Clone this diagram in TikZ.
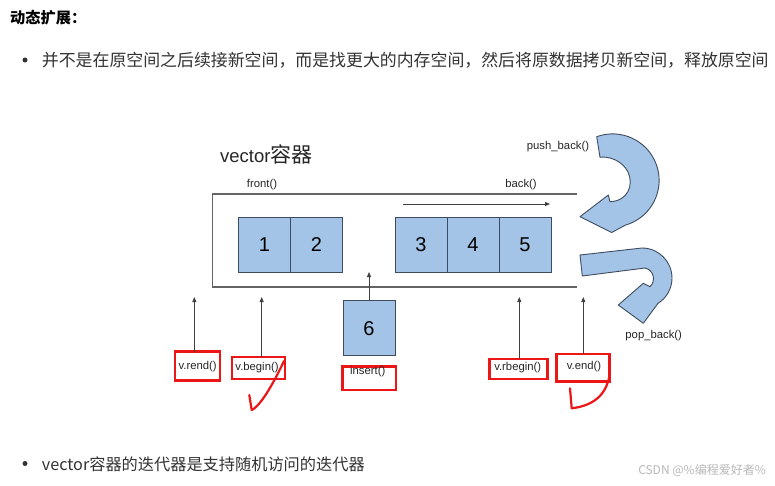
\documentclass[tikz,border=0pt]{standalone}
\usepackage{fontspec}
\setmainfont{Liberation Sans}
\newfontfamily\cjk{Noto Sans CJK SC}
\usetikzlibrary{arrows.meta}
\definecolor{boxfill}{RGB}{163,196,230}
\definecolor{boxline}{RGB}{62,76,96}
\definecolor{frame}{RGB}{100,100,100}
\definecolor{mark}{RGB}{236,22,22}
\definecolor{body}{RGB}{51,51,51}
\begin{document}
\begin{tikzpicture}[x=1pt,y=-1pt,
  cell/.style={draw=boxline, fill=boxfill, line width=0.9pt, minimum width=52pt, minimum height=55pt, inner sep=0pt, outer sep=0pt, font=\fontsize{20}{24}\selectfont},
  lbl/.style={font=\fontsize{11.3}{13}\selectfont, inner sep=0pt, text=black!85},
  redbox/.style={draw=mark, line width=2.6pt, inner sep=0pt, outer sep=0pt},
  ptr/.style={draw=black!75, line width=0.8pt, -{Triangle[length=5pt,width=4pt]}},
  frameline/.style={draw=frame, line width=1.2pt},
  bigarrow/.style={draw=boxline, fill=boxfill, line width=0.9pt, line join=round},
  check/.style={draw=mark, line width=2.2pt, line cap=round, line join=round},
  bodytext/.style={inner sep=0pt, text=body, anchor=west},
  dot/.style={circle, fill=body, inner sep=0pt, minimum size=5pt}
]
\useasboundingbox (0,0) rectangle (775,485);
\fill[white] (0,0) rectangle (775,485);

% page text
\node[bodytext, text=black, font=\cjk\bfseries\fontsize{15.2}{18}\selectfont] (head) at (10,18) {动态扩展：};
\node[dot] (b1) at (25,60) {};
\node[bodytext, font=\cjk\fontsize{16.9}{20}\selectfont] (t1) at (41.7,60) {并不是在原空间之后续接新空间，而是找更大的内存空间，然后将原数据拷贝新空间，释放原空间};
\node[dot] (b2) at (25,463.5) {};
\node[bodytext, font=\cjk\fontsize{16.2}{19}\selectfont] (t2) at (41.7,464) {vector容器的迭代器是支持随机访问的迭代器};
\node[inner sep=0pt, anchor=east, text=black!28, font=\cjk\fontsize{12}{14}\selectfont] (wm) at (766,470) {CSDN @\%编程爱好者\%};

% title
\node[inner sep=0pt, anchor=west, text=black!85] (title) at (220,154) {\fontsize{18.5}{22}\selectfont vector\cjk\fontsize{21}{24}\selectfont 容器};

% container frame
\coordinate (ftr) at (577,194);
\coordinate (ftl) at (212.7,194);
\coordinate (fbl) at (212.7,287);
\coordinate (fbr) at (577,287);
\draw[frameline] (ftr) -- (ftl) -- (fbl) -- (fbr);

\node[lbl] (front) at (262,185) {front()};
\node[lbl] (back) at (521,185) {back()};
\coordinate (bs) at (403,204);
\coordinate (be) at (550,204);
\draw[ptr] (bs) -- (be);

% cells
\node[cell] (c1) at (264.5,245) {1};
\node[cell] (c2) at (316.5,245) {2};
\node[cell] (c3) at (421,245) {3};
\node[cell] (c4) at (473,245) {4};
\node[cell] (c5) at (525,245) {5};
\node[cell] (c6) at (369,328.3) {6};

% insert arrow
\coordinate (instip) at (369,272);
\draw[ptr] (c6.north) -- (instip);

% push / pop arrows
\node[lbl] (push) at (558,146.5) {push\_back()};
\node[lbl] (pop) at (653.7,335.3) {pop\_back()};
\draw[bigarrow] (596.7,136.7) arc[start angle=-110, end angle=74, radius=46.5]
  -- (611.7,232.5) -- (580,216.7) -- (608.3,195) -- (610,201.7)
  .. controls (628,201) and (634,185) .. (628,172)
  .. controls (622,160) and (608,156) .. (600,157.3) -- cycle;
\draw[bigarrow] (580,255) -- (642,248) arc[start angle=-90, end angle=58, radius=30]
  -- (643.3,323.3) -- (618.3,305) -- (643.3,283.3) -- (650,286.7)
  .. controls (656,281) and (654,270) .. (645,268) -- (582.3,276) -- cycle;

% iterator labels with red boxes
\node[redbox, minimum width=45pt, minimum height=29pt] (rendbox) at (197.5,366.2) {};
\node[redbox, minimum width=53pt, minimum height=22pt] (beginbox) at (258.5,368) {};
\node[redbox, minimum width=53.3pt, minimum height=23.3pt] (insbox) at (369.3,378.3) {};
\node[redbox, minimum width=58pt, minimum height=20pt] (rbeginbox) at (518.3,369) {};
\node[redbox, minimum width=52.6pt, minimum height=27.7pt] (endbox) at (583,367.8) {};

\node[lbl] (rend) at (197.7,367) {v.rend()};
\node[lbl] (begin) at (257,367.5) {v.begin()};
\node[lbl] (ins) at (367.7,371.5) {insert()};
\node[lbl] (rbegin) at (517.7,367.7) {v.rbegin()};
\node[lbl] (vend) at (584,367) {v.end()};

\coordinate (rendtip) at (194.3,297);
\coordinate (begintip) at (261.7,297);
\coordinate (rbegintip) at (519.3,297);
\coordinate (endtip) at (583.3,297);
\draw[ptr] (rendbox.north -| rendtip) -- (rendtip);
\draw[ptr] (beginbox.north -| begintip) -- (begintip);
\draw[ptr] (rbeginbox.north -| rbegintip) -- (rbegintip);
\draw[ptr] (endbox.north -| endtip) -- (endtip);

% hand-drawn check marks
\draw[check] (249.3,395) -- (251.7,410) .. controls (262,405) and (276,378) .. (284,361);
\draw[check] (570,388.3) -- (571.7,408.3) .. controls (590,406) and (605,398) .. (609.3,376.7);
\end{tikzpicture}
\end{document}
